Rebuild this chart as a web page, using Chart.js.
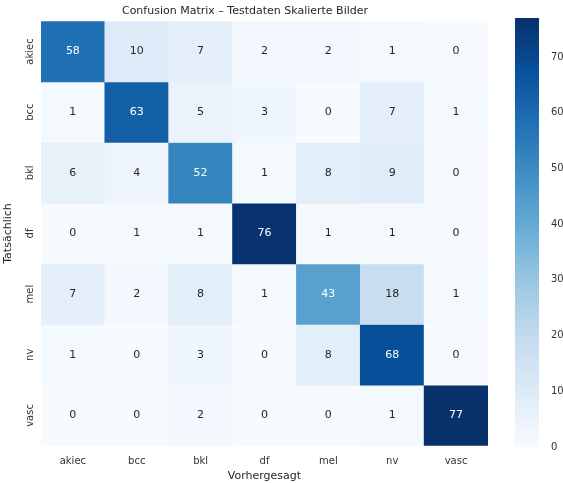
<!DOCTYPE html>
<html><head><meta charset="utf-8">
<script src="https://cdn.jsdelivr.net/npm/chart.js@4"></script>
<style>body{margin:0;background:#fff}#w{position:relative;width:563px;height:483px}
canvas{position:absolute}</style></head><body><div id="w">
<canvas id="m" style="left:0;top:0" width="500" height="483"></canvas>
<canvas id="c" style="left:500px;top:0" width="63" height="483"></canvas></div>
<script>
const classes=["akiec","bcc","bkl","df","mel","nv","vasc"];
const matrix=[
[58,10,7,2,2,1,0],
[1,63,5,3,0,7,1],
[6,4,52,1,8,9,0],
[0,1,1,76,1,1,0],
[7,2,8,1,43,18,1],
[1,0,3,0,8,68,0],
[0,0,2,0,0,1,77]];
const vmax=77;
const stops=["#f7fbff","#deebf7","#c6dbef","#9ecae1","#6baed6","#4292c6","#2171b5","#08519c","#08306b"];
function hex(h){return [1,3,5].map(i=>parseInt(h.substr(i,2),16));}
function cmap(t){t=Math.max(0,Math.min(1,t));const p=t*8,i=Math.min(7,Math.floor(p)),f=p-i;const a=hex(stops[i]),b=hex(stops[i+1]);
return `rgb(${a.map((v,k)=>Math.round(v+(b[k]-v)*f)).join(",")})`;}
const F="DejaVu Sans";
const textPlugin={id:"t",afterDatasetsDraw(ch){const ctx=ch.ctx;ctx.save();ctx.font=`11px "${F}"`;ctx.textAlign="center";ctx.textBaseline="middle";
ch.data.datasets.forEach((ds,r)=>{ch.getDatasetMeta(r).data.forEach((el,c)=>{const v=matrix[r][c];
ctx.fillStyle=v/vmax>0.5?"#fff":"#262626";ctx.fillText(String(v),el.x,(el.y+el.base)/2);});});
const ys=ch.scales.y;ctx.fillStyle="#333";ctx.font=`10px "${F}"`;
classes.forEach((l,i)=>{const y=ys.getPixelForValue(i+0.5);ctx.save();ctx.translate(ys.right-6,y);ctx.rotate(-Math.PI/2);ctx.textBaseline="bottom";ctx.fillText(l,0,0);ctx.restore();});
ctx.restore();}};
new Chart(document.getElementById("m"),{type:"bar",
data:{labels:classes,datasets:matrix.map((row,r)=>({label:classes[r],data:row.map(()=>1),backgroundColor:row.map(v=>cmap(v/vmax)),borderWidth:0,barPercentage:1,categoryPercentage:1}))},
options:{responsive:false,animation:false,layout:{padding:{left:2,right:12,top:1,bottom:0}},
plugins:{legend:{display:false},tooltip:{enabled:false},title:{display:true,text:"Confusion Matrix – Testdaten Skalierte Bilder",color:"#262626",font:{family:F,size:11,weight:"normal"},padding:{top:4,bottom:3}}},
scales:{x:{stacked:true,grid:{display:false},border:{display:false},ticks:{color:"#333",font:{family:F,size:10},padding:2},title:{display:true,text:"Vorhergesagt",color:"#262626",font:{family:F,size:11},padding:0}},
y:{stacked:true,reverse:true,min:0,max:7,grid:{display:false},border:{display:false},ticks:{display:true,color:"rgba(0,0,0,0)",font:{family:F,size:10},padding:4,callback:()=>"m"},title:{display:true,text:"Tatsächlich",color:"#262626",font:{family:F,size:11},padding:0}}}},
plugins:[textPlugin]});
const cbPlugin={id:"g",beforeDatasetsDraw(ch){const a=ch.chartArea;const g=ch.ctx.createLinearGradient(0,a.bottom,0,a.top);for(let i=0;i<=8;i++)g.addColorStop(i/8,stops[i]);ch.data.datasets[0].backgroundColor=g;ch.getDatasetMeta(0).data[0].options.backgroundColor=g;}};
new Chart(document.getElementById("c"),{type:"bar",data:{labels:[""],datasets:[{data:[vmax],borderWidth:0,barPercentage:1,categoryPercentage:1}]},
options:{responsive:false,animation:false,layout:{padding:{left:15,top:18,bottom:36}},plugins:{legend:{display:false},tooltip:{enabled:false}},
scales:{x:{display:false},y:{position:"right",min:0,max:vmax,grid:{display:false},border:{display:false},afterBuildTicks(s){s.ticks=[0,10,20,30,40,50,60,70].map(v=>({value:v}));},ticks:{color:"#333",font:{family:F,size:10},padding:4}}}},
plugins:[cbPlugin]});
</script></body></html>
